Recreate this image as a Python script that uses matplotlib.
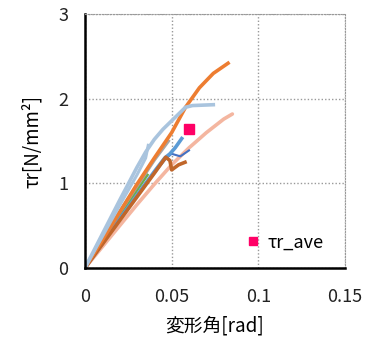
import matplotlib
matplotlib.use('Agg')
import matplotlib.pyplot as plt

plt.rcParams['font.family'] = ['Noto Sans CJK JP', 'DejaVu Sans']

# test specimens: deformation angle [rad] vs shear stress [N/mm2]
orangeX = [0, 0.01, 0.02, 0.03, 0.04, 0.05, 0.058, 0.066, 0.074, 0.0825]
orangeY = [0, 0.33, 0.66, 0.99, 1.30, 1.60, 1.90, 2.13, 2.30, 2.42]
lblueX = [0, 0.01, 0.02, 0.03, 0.035, 0.04, 0.045, 0.05, 0.058, 0.062, 0.074]
lblueY = [0, 0.40, 0.80, 1.19, 1.37, 1.52, 1.64, 1.74, 1.90, 1.92, 1.93]
lblue2X = [0, 0.01, 0.02, 0.03, 0.035, 0.0365]
lblue2Y = [0, 0.37, 0.74, 1.10, 1.30, 1.45]
salmonX = [0, 0.01, 0.02, 0.03, 0.04, 0.05, 0.06, 0.07, 0.08, 0.085]
salmonY = [0, 0.25, 0.50, 0.75, 0.99, 1.22, 1.42, 1.60, 1.76, 1.82]
grayX = [0, 0.02, 0.04, 0.048]
grayY = [0, 0.66, 1.28, 1.50]
blueX = [0, 0.02, 0.04, 0.046, 0.049, 0.052, 0.0558]
blueY = [0, 0.58, 1.14, 1.30, 1.35, 1.42, 1.53]
dblueX = [0, 0.02, 0.04, 0.047, 0.05, 0.055, 0.06]
dblueY = [0, 0.57, 1.12, 1.30, 1.35, 1.32, 1.39]
brownX = [0, 0.02, 0.04, 0.0466, 0.049, 0.05, 0.054, 0.0577]
brownY = [0, 0.56, 1.12, 1.31, 1.27, 1.16, 1.22, 1.25]
greenX = [0, 0.02, 0.036]
greenY = [0, 0.62, 1.10]
yellowX = [0, 0.02, 0.035]
yellowY = [0, 0.58, 1.00]

aveX = [0.06]
aveY = [1.64]

xTicks = [0, 0.05, 0.1, 0.15]
xTickLabels = ['0', '0.05', '0.1', '0.15']
yTicks = [0, 1, 2, 3]

fig = plt.figure(figsize=(3.66, 3.45), dpi=100)
ax = fig.add_axes([0.232, 0.223, 0.711, 0.736])

ax.plot(salmonX, salmonY, color='#F4B6A0', linewidth=2.6, solid_capstyle='round')
ax.plot(yellowX, yellowY, color='#FFC000', linewidth=1.2)
ax.plot(greenX, greenY, color='#70AD47', linewidth=2.0)
ax.plot(grayX, grayY, color='#A5A5A5', linewidth=2.6)
ax.plot(dblueX, dblueY, color='#4472C4', linewidth=1.5)
ax.plot(blueX, blueY, color='#5B9BD5', linewidth=2.6)
ax.plot(brownX, brownY, color='#C0662A', linewidth=2.6)
ax.plot(orangeX, orangeY, color='#ED7D31', linewidth=2.6)
ax.plot(lblue2X, lblue2Y, color='#A9C4DE', linewidth=2.2)
ax.plot(lblueX, lblueY, color='#A9C4DE', linewidth=2.6)
ax.plot(aveX, aveY, linestyle='none', marker='s', markersize=7,
        color='#FF0066', label='τr_ave')

ax.set_xlim(0, 0.15)
ax.set_ylim(0, 3)
ax.set_xticks(xTicks)
ax.set_xticklabels(xTickLabels)
ax.set_yticks(yTicks)
ax.tick_params(length=0, labelsize=13, colors='#222222')
ax.tick_params(axis='x', pad=14)
ax.tick_params(axis='y', pad=12)
ax.grid(color='#999999', linestyle=(0, (1, 1.5)), linewidth=1)

for s in ['top', 'right']:
  ax.spines[s].set_color('#999999')
  ax.spines[s].set_linestyle((0, (1, 1.5)))
for s in ['left', 'bottom']:
  ax.spines[s].set_linewidth(1.8)
  ax.spines[s].set_color('black')

ax.set_xlabel('変形角[rad]', fontsize=13.5, labelpad=7)
ax.set_ylabel('τr[N/mm²]', fontsize=13.5, labelpad=11)

ax.legend(loc='center left', bbox_to_anchor=(0.555, 0.1), frameon=False,
          handlelength=0.8, handletextpad=0.4, fontsize=13, markerscale=0.75)

fig.savefig('out.png', dpi=100)
